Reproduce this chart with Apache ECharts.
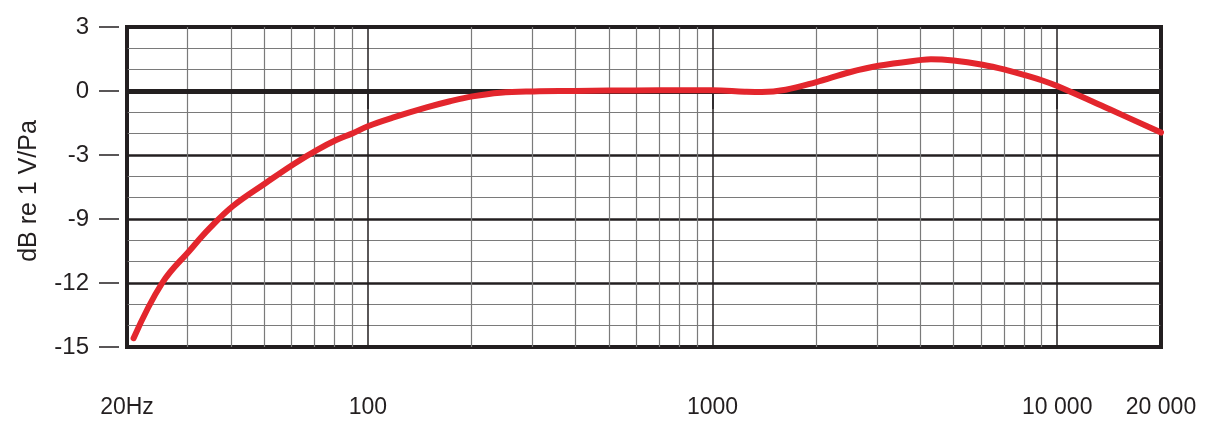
<!DOCTYPE html>
<html>
<head>
<meta charset="utf-8">
<script src="https://cdn.jsdelivr.net/npm/echarts@6/dist/echarts.min.js"></script>
<style>
html,body{margin:0;padding:0;background:#fff;}
#chart{width:1221px;height:437px;}
</style>
</head>
<body>
<div id="chart"></div>
<script>
// Frequency response (Hz, dB re 1 V/Pa as read against the printed labels)
const freqs  = [20.9, 25.3, 30.5, 34.8, 40.6, 50.3, 61, 71.3, 80.9, 90.4, 100, 118, 148, 173, 201, 242, 303, 400, 500, 700, 1000, 1240, 1390, 1630, 2000, 2500, 3030, 4050, 4300, 5000, 6070, 7130, 8110, 9100, 10000, 14200, 20000];
const levels = [-14.59, -12.0, -10.45, -9.42, -7.78, -5.67, -3.84, -2.76, -2.30, -1.98, -1.65, -1.25, -0.77, -0.48, -0.25, -0.08, -0.02, 0.0, 0.02, 0.04, 0.04, -0.03, -0.05, 0.06, 0.42, 0.88, 1.18, 1.46, 1.49, 1.43, 1.23, 0.98, 0.73, 0.48, 0.23, -0.86, -1.95];

// Tick labels
const xTickValues = [20, 100, 1000, 10000, 20000];
const xTickLabels = ['20Hz', '100', '1000', '10 000', '20 000'];
const xMinorLines = [30, 40, 50, 60, 70, 80, 90, 200, 300, 400, 500, 600, 700, 800, 900, 2000, 3000, 4000, 5000, 6000, 7000, 8000, 9000];
// printed y labels, top to bottom, equally spaced on the chart
const yTickLabels = [3, 0, -3, -9, -12, -15];

// grid positions of the printed labels (equal steps)
const yGridPos = yTickLabels.map((v, i) => 3 - 3 * i);
function toGrid(db) {
  for (let i = 0; i < yTickLabels.length - 1; i++) {
    const a = yTickLabels[i], b = yTickLabels[i + 1];
    if (db <= a && db >= b) {
      return yGridPos[i] + (db - a) / (b - a) * (yGridPos[i + 1] - yGridPos[i]);
    }
  }
  return db > yTickLabels[0] ? yGridPos[0] : yGridPos[yGridPos.length - 1];
}
function gridLabel(v) {
  const i = yGridPos.findIndex(p => Math.abs(p - v) < 1e-6);
  return i >= 0 ? String(yTickLabels[i]) : '';
}

const ink = '#231f20';
const curve = freqs.map((f, i) => [f, toGrid(levels[i])]);

const chart = echarts.init(document.getElementById('chart'), null, {renderer: 'canvas'});
chart.setOption({
  animation: false,
  backgroundColor: '#ffffff',
  grid: {
    left: 127, right: 60, top: 27, bottom: 90,
    show: true, borderColor: ink, borderWidth: 4, backgroundColor: 'transparent'
  },
  xAxis: {
    type: 'log', logBase: 10, min: 20, max: 20000,
    offset: 10,
    axisLine: {show: false},
    axisTick: {show: true, length: 18, lineStyle: {color: ink, width: 1.5}},
    axisLabel: {
      margin: 39, fontSize: 23, color: ink, fontFamily: 'Liberation Sans',
      showMinLabel: true, showMaxLabel: true,
      formatter: function (v) {
        const i = xTickValues.findIndex(t => Math.abs(t - v) / t < 1e-3);
        return i >= 0 ? xTickLabels[i] : '';
      }
    },
    splitLine: {show: true, lineStyle: {color: ink, width: 1.5}},
    minorTick: {show: false},
    minorSplitLine: {show: false}
  },
  yAxis: {
    type: 'value', min: -12, max: 3, interval: 3,
    offset: 8,
    name: 'dB re 1 V/Pa', nameLocation: 'middle', nameRotate: 90, nameGap: 77,
    nameTextStyle: {fontSize: 25, color: ink, fontFamily: 'Liberation Sans', padding: [0, 8, 0, 0]},
    axisLine: {show: false},
    axisTick: {show: true, length: 20, lineStyle: {color: ink, width: 1.5}},
    axisLabel: {
      margin: 30, fontSize: 24, color: ink, fontFamily: 'Liberation Sans',
      padding: [5, 0, 0, 0],
      formatter: gridLabel
    },
    splitLine: {show: true, lineStyle: {color: ink, width: 2.5}},
    minorTick: {show: false, splitNumber: 3},
    minorSplitLine: {show: true, lineStyle: {color: '#7a7a7a', width: 1.2}}
  },
  series: [
    {
      type: 'line', z: 1, silent: true,
      data: curve, showSymbol: false,
      lineStyle: {opacity: 0},
      markLine: {
        silent: true, symbol: 'none', animation: false,
        label: {show: false},
        lineStyle: {color: '#7a7a7a', width: 1.2, type: 'solid'},
        data: xMinorLines.map(v => ({xAxis: v}))
      }
    },
    {
      type: 'line', z: 2, silent: true,
      data: [], showSymbol: false,
      markLine: {
        silent: true, symbol: 'none', animation: false,
        label: {show: false},
        lineStyle: {color: ink, width: 5, type: 'solid'},
        data: [{yAxis: 0}]
      }
    },
    {
      type: 'line', z: 5,
      data: curve,
      smooth: 0.4,
      showSymbol: false,
      lineStyle: {color: '#e3262d', width: 6, cap: 'round', join: 'round'}
    }
  ]
});
</script>
</body>
</html>
